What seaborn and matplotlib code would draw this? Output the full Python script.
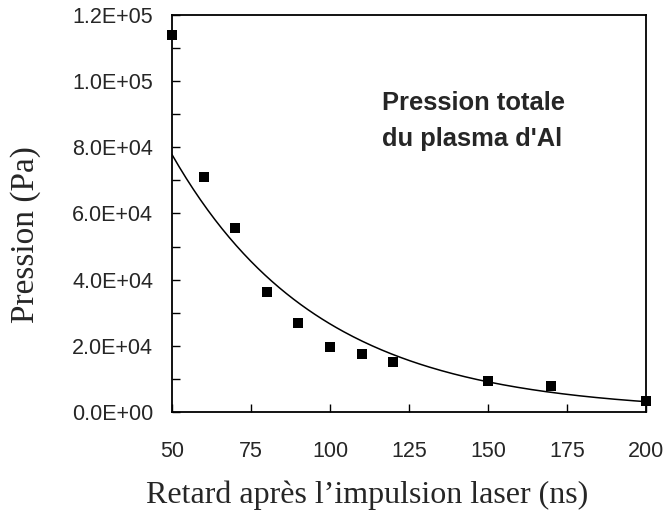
import numpy as np
import pandas as pd
import matplotlib
matplotlib.use("Agg")
import matplotlib.pyplot as plt
import seaborn as sns

# Data
delay_ns = [50, 60, 70, 80, 90, 100, 110, 120, 150, 170, 200]
pressure_pa = [114000, 71000, 55700, 36400, 27000, 19650, 17500, 15000, 9370, 7860, 3330]
x_ticks = [50, 75, 100, 125, 150, 175, 200]
y_ticks = [0, 20000, 40000, 60000, 80000, 100000, 120000]
y_tick_labels = ["0.0E+00", "2.0E+04", "4.0E+04", "6.0E+04", "8.0E+04", "1.0E+05", "1.2E+05"]
annotation_lines = ["Pression totale", "du plasma d'Al"]
x_label = "Retard après l’impulsion laser (ns)"
y_label = "Pression (Pa)"

df = pd.DataFrame({"delay": delay_ns, "pressure": pressure_pa})

# Exponential trendline (least squares on log values, like a spreadsheet trendline)
slope, intercept = np.polyfit(df["delay"], np.log(df["pressure"]), 1)
fit_x = np.linspace(min(delay_ns), max(delay_ns), 200)
fit_df = pd.DataFrame({"delay": fit_x, "pressure": np.exp(intercept + slope * fit_x)})

sns.set_style("ticks")
plt.rcParams["font.family"] = ["Liberation Sans", "DejaVu Sans"]

fig = plt.figure(figsize=(6.66, 5.13), dpi=100)
ax = fig.add_axes([172 / 666, 1 - 412 / 513, (646 - 172) / 666, (412 - 15) / 513])

sns.lineplot(data=fit_df, x="delay", y="pressure", ax=ax, color="black", linewidth=1.1)
sns.scatterplot(data=df, x="delay", y="pressure", ax=ax, marker="s", s=52,
                color="black", edgecolor="black", linewidth=0, clip_on=False, zorder=5)

ax.set_xlim(50, 200)
ax.set_ylim(0, 120000)
ax.set_xticks(x_ticks)
ax.set_xticklabels([str(t) for t in x_ticks])
ax.set_yticks(y_ticks)
ax.set_yticklabels(y_tick_labels)
ax.set_yticks([10000, 30000, 50000, 70000, 90000, 110000], minor=True)

for s in ax.spines.values():
    s.set_visible(True)
    s.set_color("black")
    s.set_linewidth(1.3)

ax.tick_params(axis="both", which="both", direction="in", length=5.8, width=1.0, color="black")
ax.tick_params(axis="x", which="major", pad=21, labelsize=15.5)
ax.tick_params(axis="y", which="major", pad=13.5, labelsize=15.5)
ax.tick_params(top=False, right=False)

ax.set_xlabel(x_label, family="Liberation Serif", fontsize=23)
ax.set_ylabel(y_label, family="Liberation Serif", fontsize=24)
ax.xaxis.set_label_coords((367 - 172) / 474, (412 - 495) / 397)
ax.xaxis.label.set_va("center")
ax.yaxis.set_label_coords((26 - 172) / 474, (412 - 235) / 397)
ax.yaxis.label.set_va("center")

ax.text(116.4, 91285, annotation_lines[0], fontsize=18.4, fontweight="bold",
        ha="left", va="baseline")
ax.text(116.4, 80495, annotation_lines[1], fontsize=18.4, fontweight="bold",
        ha="left", va="baseline")

fig.savefig("out.png", dpi=100, facecolor="white")
